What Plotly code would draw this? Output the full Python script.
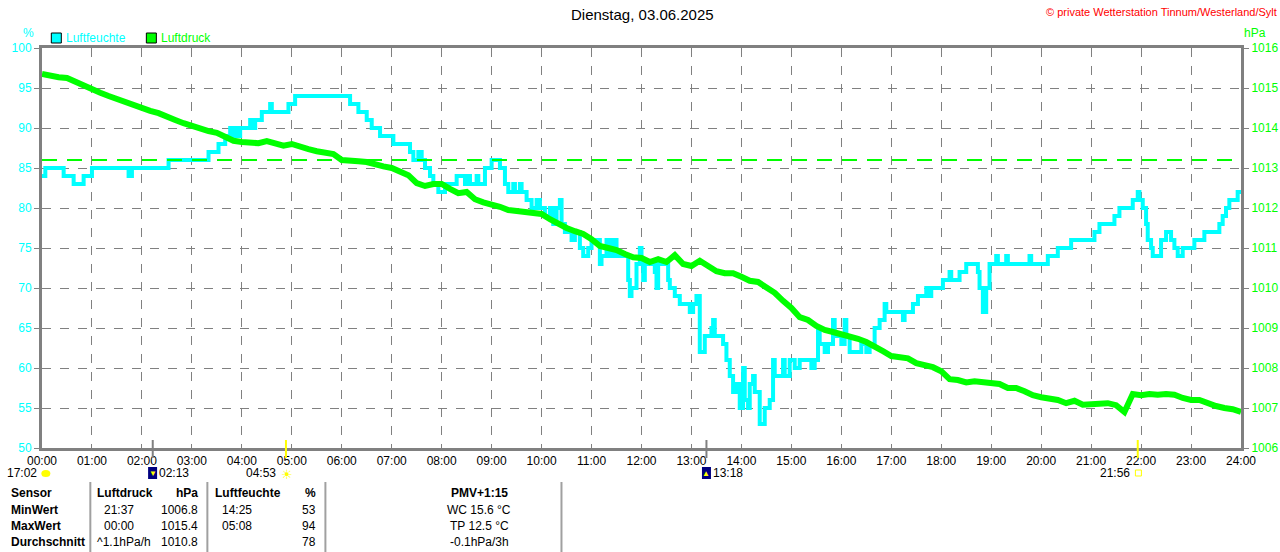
import plotly.graph_objects as go

# humidity steps (time, %)
hum_time = [
    "00:00", "00:04", "00:26", "00:38", "00:50", "01:00", "01:44", "01:48", "02:32", "03:20",
    "03:32", "03:40", "03:46", "03:48", "03:52", "03:54", "03:58", "04:10", "04:12", "04:16",
    "04:24", "04:34", "04:36", "04:56", "05:04", "06:10", "06:20", "06:30", "06:36", "06:46",
    "07:02", "07:22", "07:26", "07:32", "07:36", "07:40", "07:46", "07:50", "07:56", "08:04",
    "08:18", "08:28", "08:30", "08:34", "08:42", "08:44", "08:52", "09:00", "09:10", "09:16",
    "09:20", "09:26", "09:28", "09:34", "09:36", "09:42", "09:48", "09:54", "09:58", "10:04",
    "10:10", "10:14", "10:18", "10:22", "10:24", "10:28", "10:36", "10:40", "10:46", "10:50",
    "10:56", "11:00", "11:10", "11:12", "11:18", "11:22", "11:26", "11:30", "11:44", "11:46",
    "11:48", "11:54", "11:58", "12:00", "12:02", "12:04", "12:16", "12:18", "12:20", "12:32",
    "12:34", "12:40", "12:46", "12:58", "13:02", "13:06", "13:10", "13:16", "13:24", "13:26",
    "13:28", "13:38", "13:42", "13:46", "13:50", "13:54", "13:58", "14:02", "14:04", "14:08",
    "14:10", "14:14", "14:16", "14:22", "14:28", "14:34", "14:38", "14:40", "14:50", "14:52",
    "14:58", "15:04", "15:10", "15:24", "15:28", "15:32", "15:34", "15:40", "15:44", "15:50",
    "15:52", "16:00", "16:04", "16:06", "16:10", "16:24", "16:30", "16:34", "16:40", "16:46",
    "16:52", "16:54", "17:14", "17:16", "17:26", "17:32", "17:42", "17:46", "17:48", "18:02",
    "18:10", "18:12", "18:22", "18:30", "18:44", "18:46", "18:50", "18:54", "18:58", "19:06",
    "19:08", "19:18", "19:20", "19:46", "19:48", "20:08", "20:20", "20:36", "21:04", "21:10",
    "21:28", "21:34", "21:50", "21:56", "21:58", "22:02", "22:06", "22:08", "22:12", "22:14",
    "22:24", "22:30", "22:36", "22:40", "22:44", "22:50", "23:04", "23:16", "23:34", "23:38",
    "23:42", "23:46", "23:56", "24:00",
]
hum_value = [
    84, 85, 84, 83, 84, 85, 84, 85, 86, 87,
    88, 89, 90, 89, 90, 89, 90, 91, 90, 91,
    92, 93, 92, 93, 94, 93, 92, 91, 90, 89,
    88, 87, 86, 87, 86, 85, 84, 83, 82, 83,
    84, 83, 84, 83, 84, 83, 85, 86, 85, 83,
    82, 83, 82, 83, 82, 81, 80, 81, 80, 79,
    80, 78, 80, 81, 78, 77, 76, 77, 75, 74,
    75, 76, 73, 74, 76, 74, 76, 74, 71, 69,
    70, 73, 75, 73, 71, 73, 72, 70, 73, 71,
    70, 69, 68, 67, 68, 69, 62, 64, 65, 66,
    64, 63, 61, 59, 57, 58, 55, 60, 56, 55,
    58, 59, 57, 53, 55, 56, 61, 59, 61, 59,
    61, 60, 61, 60, 61, 65, 63, 62, 63, 66,
    64, 63, 66, 64, 62, 63, 62, 63, 65, 66,
    68, 67, 66, 67, 68, 69, 70, 69, 70, 71,
    72, 71, 72, 73, 72, 70, 67, 70, 73, 74,
    73, 74, 73, 74, 73, 74, 75, 76, 77, 78,
    79, 80, 81, 82, 81, 80, 78, 76, 75, 74,
    76, 77, 76, 75, 74, 75, 76, 77, 78, 79,
    80, 81, 82, 82,
]

# pressure every 10 minutes, 00:00 .. 24:00 (hPa)
press_value = [
    1015.35, 1015.30, 1015.27, 1015.25, 1015.15, 1015.07,
    1014.97, 1014.88, 1014.80, 1014.72, 1014.67, 1014.58,
    1014.52, 1014.43, 1014.37, 1014.30, 1014.20, 1014.12,
    1014.05, 1013.97, 1013.92, 1013.88, 1013.80, 1013.68,
    1013.65, 1013.62, 1013.62, 1013.67, 1013.60, 1013.56,
    1013.60, 1013.52, 1013.47, 1013.42, 1013.38, 1013.35,
    1013.20, 1013.17, 1013.17, 1013.15, 1013.08, 1013.04,
    1013.00, 1012.92, 1012.82, 1012.62, 1012.55, 1012.60,
    1012.60, 1012.48, 1012.37, 1012.40, 1012.22, 1012.14,
    1012.10, 1012.03, 1011.95, 1011.92, 1011.88, 1011.85,
    1011.85, 1011.72, 1011.60, 1011.50, 1011.42, 1011.35,
    1011.22, 1011.05, 1011.00, 1010.95, 1010.85, 1010.77,
    1010.75, 1010.65, 1010.72, 1010.65, 1010.82, 1010.60,
    1010.55, 1010.68, 1010.55, 1010.42, 1010.37, 1010.37,
    1010.28, 1010.18, 1010.15, 1010.02, 1009.88, 1009.68,
    1009.50, 1009.27, 1009.20, 1009.05, 1008.95, 1008.90,
    1008.85, 1008.80, 1008.73, 1008.65, 1008.55, 1008.42,
    1008.30, 1008.26, 1008.24, 1008.12, 1008.08, 1008.02,
    1007.92, 1007.72, 1007.70, 1007.64, 1007.67, 1007.64,
    1007.62, 1007.60, 1007.50, 1007.50, 1007.42, 1007.32,
    1007.27, 1007.25, 1007.20, 1007.12, 1007.18, 1007.08,
    1007.10, 1007.12, 1007.12, 1007.07, 1006.90, 1007.35,
    1007.32, 1007.35, 1007.33, 1007.35, 1007.33, 1007.25,
    1007.20, 1007.20, 1007.12, 1007.05, 1007.00, 1006.97,
    1006.90,
]
press_ref = 1013.2

hour_labels = ["%02d:00" % h for h in range(25)]
hum_ticks = list(range(50, 101, 5))
press_ticks = list(range(1006, 1017))

# sun / moon events below the axis
event_time = ["02:13", "04:53", "13:18", "21:56"]
event_color = ["#808080", "#FFFF00", "#808080", "#FFFF00"]

table_rows = ["Sensor", "MinWert", "MaxWert", "Durchschnitt"]
press_col_time = ["", "21:37", "00:00", "^1.1hPa/h"]
press_col_val = ["hPa", "1006.8", "1015.4", "1010.8"]
hum_col_time = ["", "14:25", "05:08", ""]
hum_col_val = ["%", "53", "94", "78"]
extra_col = ["PMV+1:15", "WC 15.6 °C", "TP 12.5 °C", "-0.1hPa/3h"]


def to_hours(t):
    h, m = t.split(":")
    return int(h) + int(m) / 60


# the screenshot comes out squeezed slightly in width, so the figure is built a bit wider
SX = 1290 / 1280
W, H = 1290, 552
L, T = 41, 48
PW, PH = 1208, 400
R, B = W - L - PW, H - T - PH


def px(x):
    return (x * SX - L) / PW


def py(y):
    return (T + PH - y) / PH


FONT = "Liberation Sans, Arial, sans-serif"
CYAN = "#00FFFF"
GREEN = "#00FF00"
GRAY = "#808080"

press_time = [i / 6 for i in range(len(press_value))]

fig = go.Figure()
fig.add_trace(go.Scatter(x=press_time, y=press_value, yaxis="y2", mode="lines",
                         line=dict(color=GREEN, width=6), hoverinfo="skip"))
fig.add_trace(go.Scatter(x=[to_hours(t) for t in hum_time], y=hum_value, mode="lines",
                         line=dict(color=CYAN, width=4, shape="hv"), hoverinfo="skip"))
fig.add_trace(go.Scatter(x=[0, 24], y=[press_ref, press_ref], yaxis="y2", mode="lines",
                         line=dict(color=GREEN, width=2, dash="15px,10px"), hoverinfo="skip"))

ann = []


def text(x, y, s, color="black", size=12, anchor="left", bold=False):
    if bold:
        s = "<b>" + s + "</b>"
    ann.append(dict(x=px(x), y=py(y), xref="paper", yref="paper", text=s, showarrow=False,
                    xanchor=anchor, yanchor="middle",
                    font=dict(color=color, size=size, family=FONT)))


text(641, 15, "Dienstag, 03.06.2025", size=15, anchor="center")
text(1277, 12, "© private Wetterstation Tinnum/Westerland/Sylt", color="#FF0000", size=11, anchor="right")
text(27, 33, "%", color=CYAN, size=12, anchor="center")
text(1240, 33, "hPa", color=GREEN, size=12, anchor="left")
text(63, 38, "Luftfeuchte", color=CYAN, size=12)
text(158, 38, "Luftdruck", color=GREEN, size=12)

shapes = []
for x0, c in [(50, CYAN), (145, GREEN)]:
    shapes.append(dict(type="rect", xref="paper", yref="paper", x0=px(x0), x1=px(x0 + 10),
                       y0=py(33), y1=py(43), fillcolor=c, line=dict(color="black", width=1)))

# event ticks, icons, labels
for t, c in zip(event_time, event_color):
    xv = to_hours(t)
    shapes.append(dict(type="line", xref="x", yref="paper", x0=xv, x1=xv, y0=py(440), y1=py(458),
                       line=dict(color=c, width=2)))

text(38, 473, "17:02", anchor="right")
shapes.append(dict(type="circle", xref="paper", yref="paper", x0=px(40), x1=px(49), y0=py(470), y1=py(477),
                   fillcolor="#FFFF00", line=dict(width=0)))
for t, arrow in [("02:13", "▼"), ("13:18", "▲")]:
    xc = 41 + to_hours(t) / 24 * 1199
    shapes.append(dict(type="rect", xref="paper", yref="paper", x0=px(xc - 5), x1=px(xc + 4),
                       y0=py(467), y1=py(479), fillcolor="#000080", line=dict(width=0)))
    text(xc - 0.5, 473, arrow, color="#FFFF00", size=8, anchor="center")
    text(xc + 4, 473, t)
x_sun = 41 + to_hours("04:53") / 24 * 1199
text(x_sun - 8, 473, "04:53", anchor="right")
text(x_sun + 1, 474, "☀", color="#FFFF00", size=13, anchor="center")
x_set = 41 + to_hours("21:56") / 24 * 1199
text(x_set - 6, 473, "21:56", anchor="right")
shapes.append(dict(type="rect", xref="paper", yref="paper", x0=px(x_set - 3), x1=px(x_set + 3),
                   y0=py(470), y1=py(476), line=dict(color="#FFFF00", width=1)))

# statistics table
row_y = [493, 510, 526, 542]
for i, y in enumerate(row_y):
    head = i == 0
    text(8, y, table_rows[i], bold=True)
    if head:
        text(94, y, "Luftdruck", bold=True)
        text(212, y, "Luftfeuchte", bold=True)
    else:
        text(101 if i < 3 else 94, y, press_col_time[i])
        text(219, y, hum_col_time[i])
    text(199, y, press_col_val[i], anchor="right", bold=head)
    text(317, y, hum_col_val[i], anchor="right", bold=head)
    text(478, y, extra_col[i], anchor="center", bold=head)
for xl in [89, 206, 324, 560]:
    shapes.append(dict(type="line", xref="paper", yref="paper", x0=px(xl), x1=px(xl),
                       y0=py(482), y1=py(552), line=dict(color="#A0A0A0", width=2)))

fig.update_layout(
    width=W, height=H,
    margin=dict(l=L, r=R, t=T, b=B),
    paper_bgcolor="white", plot_bgcolor="white",
    showlegend=False,
    font=dict(family=FONT, size=12, color="black"),
    xaxis=dict(range=[0, 24], tickvals=list(range(25)), ticktext=hour_labels,
               showgrid=True, gridcolor=GRAY, griddash="dash", gridwidth=1,
               showline=True, linecolor=GRAY, linewidth=3, mirror=True,
               ticks="", zeroline=False, tickfont=dict(color="black", size=12)),
    yaxis=dict(range=[50, 100], tickvals=hum_ticks,
               showgrid=True, gridcolor=GRAY, griddash="dash", gridwidth=1,
               showline=True, linecolor=GRAY, linewidth=3,
               ticks="outside", ticklen=5, tickcolor=GRAY, zeroline=False,
               tickfont=dict(color=CYAN, size=12)),
    yaxis2=dict(range=[1006, 1016], tickvals=press_ticks, overlaying="y", side="right",
                showgrid=False, showline=True, linecolor=GRAY, linewidth=3,
                ticks="outside", ticklen=5, tickcolor=GRAY, zeroline=False,
                tickfont=dict(color=GREEN, size=12)),
    annotations=ann,
    shapes=shapes,
)

# drop the browser's default page margin so the figure sits at the window corner
fig.write_html("out.html", config={"displayModeBar": False},
               post_script="document.body.style.margin='0px';document.body.style.overflow='hidden';")
